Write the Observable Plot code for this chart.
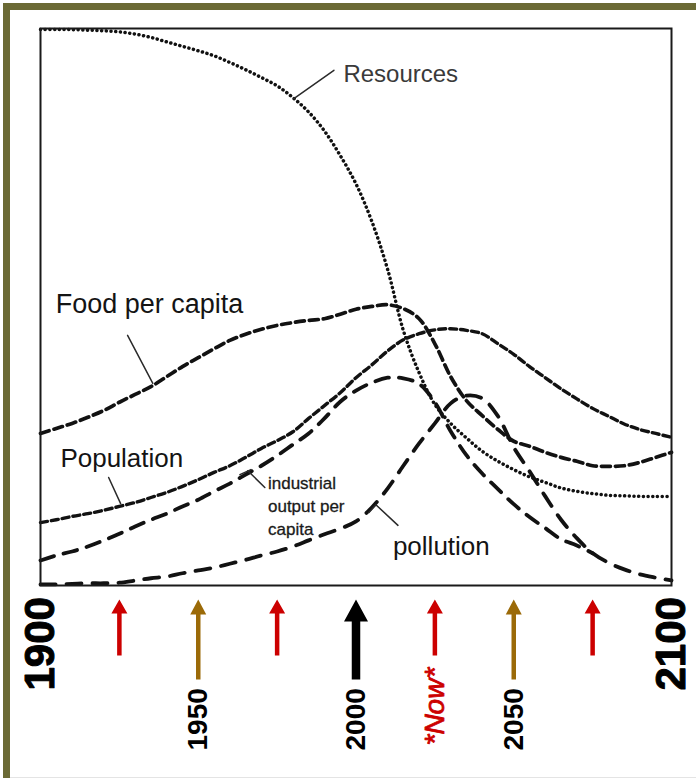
<!DOCTYPE html>
<html><head><meta charset="utf-8">
<script src="https://cdn.jsdelivr.net/npm/d3@7"></script>
<script src="https://cdn.jsdelivr.net/npm/@observablehq/plot@0.6"></script>
<style>
html,body{margin:0;padding:0;background:#fff;}
#wrap{position:relative;width:696px;height:780px;overflow:hidden;background:#fff;}
#border{position:absolute;left:3px;top:3px;width:693px;height:775px;border-top:7px solid #6b6a35;border-left:7px solid #6b6a35;box-sizing:border-box;}
#bottomline{position:absolute;left:10px;top:777px;width:686px;height:1px;background:#e4e4e4;}
#chart{position:absolute;left:0;top:0;}
</style></head><body>
<div id="wrap"><div id="border"></div><div id="bottomline"></div><div id="chart"></div></div>
<script>
// ---- data (index values, 0 = bottom of frame, 100 = top) ----
const years = [1900,1905,1910,1915,1920,1925,1930,1935,1940,1945,1950,1955,1960,1965,1970,1975,1980,1985,1990,1995,
               2000,2005,2010,2015,2020,2025,2030,2035,2040,2045,2050,2055,2060,2065,2070,2075,2080,2085,2090,2095,2100];
const resources  = [99.8,99.8,99.8,99.7,99.6,99.4,99.0,98.4,97.6,96.8,96.0,95.1,93.9,92.6,91.2,89.7,87.6,85.0,81.6,77.2,
                    72.1,65.4,56.8,45.8,38.2,32.5,29.1,26.5,24.1,22.3,20.8,19.5,18.5,17.5,16.9,16.5,16.2,16.1,16.0,16.0,16.0];
const foodPerCapita = [27.3,28.2,29.1,30.2,31.4,32.9,34.3,35.7,37.5,39.3,40.9,42.5,44.0,45.1,46.0,46.7,47.2,47.6,47.9,48.7,
                    49.6,50.1,50.4,49.7,47.9,43.4,37.5,33.2,30.5,28.0,25.9,25.0,23.9,23.0,22.3,21.5,21.4,21.5,22.1,23.0,23.9];
const population = [11.3,11.8,12.4,12.9,13.5,14.2,14.9,15.8,16.7,17.8,19.0,20.3,21.5,23.0,24.6,26.0,27.6,30.0,32.3,34.6,
                    37.3,39.6,42.1,44.1,45.2,45.9,46.1,45.8,45.2,43.4,41.5,39.3,37.3,35.3,33.5,31.8,30.4,29.0,28.0,27.3,26.6];
const industrialOutput = [4.5,5.4,6.1,7.0,8.1,9.3,10.6,11.8,12.9,14.2,15.4,16.9,18.3,19.9,21.5,23.3,25.3,27.3,30.0,33.0,
                    35.0,36.4,37.3,37.2,36.2,32.9,27.7,23.4,20.1,17.3,14.6,12.3,10.3,8.3,7.2,5.8,4.1,2.9,2.0,1.4,0.9];
const pollution  = [0.2,0.2,0.3,0.4,0.4,0.5,0.9,1.3,1.6,2.2,2.7,3.2,3.9,4.6,5.4,6.1,7.0,8.1,9.2,10.2,
                    11.5,14.0,17.4,21.5,25.5,29.1,32.7,34.1,33.6,30.4,24.8,20.5,16.0,11.8,8.5,5.8,4.1,2.9,2.0,1.4,0.9];

const tickYears  = [1900, 1950, 2000, 2025, 2050, 2100];
const tickLabels = ["1900", "1950", "2000", "*Now*", "2050", "2100"];
const arrowYears = [1925, 1950, 1975, 2000, 2025, 2050, 2075];
const arrowKinds = ["red", "brown", "red", "black", "red", "brown", "red"];

// ---- build tidy tables ----
const series = (vals) => years.map((yr, i) => ({year: yr, value: vals[i]}));

const labelRows = [
  {year: 1996.0, value: 91.7, text: "Resources", size: 24, fill: "#3a3a3a"},
  {year: 1904.8, value: 50.4, text: "Food per capita", size: 27, fill: "#141414"},
  {year: 1906.3, value: 22.7, text: "Population", size: 26, fill: "#141414"},
  {year: 2011.7, value: 6.9, text: "pollution", size: 26, fill: "#141414"}
];
const smallLabel = [{year: 1972.1, value: 14.5, text: "industrial\noutput per\ncapita"}];

const pointerRows = [
  {id: "res", pts: [[1980.3, 87.4], [1993.0, 92.5]]},
  {id: "food", pts: [[1927.6, 44.9], [1935.6, 36.3]]},
  {id: "pop", pts: [[1921.6, 19.4], [1925.4, 14.7]]},
  {id: "ind", pts: [[1963.2, 19.9], [1966.7, 20.8]]},
  {id: "ind2", pts: [[1965.7, 20.6], [1971.1, 17.6]]},
  {id: "pol", pts: [[2004.1, 13.1], [2006.3, 14.5], [2013.3, 10.8]]}
];
const pointerData = pointerRows.flatMap(p => p.pts.map(([x, y]) => ({id: p.id, year: x, value: y})));

const ticks = tickYears.map((y, i) => ({year: y, label: tickLabels[i]}));
const arrows = arrowYears.map((y, i) => ({year: y, kind: arrowKinds[i]}));

function arrowShape(shaftW, headW, headH) {
  return {
    draw(ctx, l) {
      ctx.moveTo(-shaftW / 2, 0);
      ctx.lineTo(-shaftW / 2, -(l - headH));
      ctx.lineTo(-headW / 2, -(l - headH));
      ctx.lineTo(0, -l);
      ctx.lineTo(headW / 2, -(l - headH));
      ctx.lineTo(shaftW / 2, -(l - headH));
      ctx.lineTo(shaftW / 2, 0);
      ctx.closePath();
    }
  };
}

const lineStyle = {x: "year", y: "value", curve: "catmull-rom", stroke: "#121212"};

const chart = Plot.plot({
  width: 696,
  height: 780,
  marginLeft: 40,
  marginRight: 25,
  marginTop: 28,
  marginBottom: 195,
  x: {domain: [1900, 2100], axis: null},
  y: {domain: [0, 100], axis: null},
  style: {background: "transparent", fontFamily: "'Liberation Sans', Arial, sans-serif", overflow: "visible"},
  marks: [
    Plot.line(series(resources), {...lineStyle, strokeWidth: 3.5, strokeDasharray: "0.1 4.6", strokeLinecap: "round", stroke: "#111"}),
    Plot.line(series(foodPerCapita), {...lineStyle, strokeWidth: 3.7, strokeDasharray: "9 5"}),
    Plot.line(series(population), {...lineStyle, strokeWidth: 3.4, strokeDasharray: "7 4"}),
    // after ~2075 industrial output coincides with the pollution line, which draws that shared stretch
    Plot.line(series(industrialOutput), {...lineStyle, filter: d => d.year <= 2075, strokeWidth: 3.8, strokeDasharray: "14 10"}),
    Plot.line(series(pollution), {...lineStyle, strokeWidth: 3.8, strokeDasharray: "15 11"}),
    Plot.frame({stroke: "#1a1a1a", strokeWidth: 2}),
    Plot.line(pointerData, {x: "year", y: "value", z: "id", stroke: "#2a2a2a", strokeWidth: 1.5}),
    Plot.text(labelRows, {x: "year", y: "value", text: "text", fontSize: d => d.size, fill: "fill", textAnchor: "start", lineAnchor: "middle"}),
    Plot.text(smallLabel, {x: "year", y: "value", text: "text", fontSize: 17, lineHeight: 1.36, fill: "#1a1a1a", stroke: "#1a1a1a", strokeWidth: 0.3, textAnchor: "start", lineAnchor: "middle"}),
    // rotated year labels below the frame
    Plot.text(ticks.filter(d => d.year === 1900 || d.year === 2100), {x: "year", text: "label", frameAnchor: "bottom", dy: 105, rotate: -90, textAnchor: "start", lineAnchor: "middle", fontSize: 42, fontWeight: "bold", letterSpacing: "-2px", fill: "#000", stroke: "#000", strokeWidth: 1}),
    Plot.text(ticks.filter(d => d.year > 1900 && d.year < 2100 && d.label !== "*Now*"), {x: "year", text: "label", frameAnchor: "bottom", dy: 165, rotate: -90, textAnchor: "start", lineAnchor: "middle", fontSize: 28, fontWeight: "bold", fill: "#000"}),
    Plot.text(ticks.filter(d => d.label === "*Now*"), {x: "year", text: "label", frameAnchor: "bottom", dy: 160, rotate: -90, textAnchor: "start", lineAnchor: "middle", fontSize: 28, fontStyle: "italic", fill: "#cc0000", stroke: "#cc0000", strokeWidth: 0.8}),
    // arrows
    Plot.vector(arrows.filter(d => d.kind === "red"), {x: "year", frameAnchor: "bottom", dy: 70, length: 56, anchor: "start", shape: arrowShape(4.5, 16, 14), fill: "#cc0000", stroke: "none"}),
    Plot.vector(arrows.filter(d => d.kind === "brown"), {x: "year", frameAnchor: "bottom", dy: 94, length: 80, anchor: "start", shape: arrowShape(4.5, 16, 15), fill: "#9b6a08", stroke: "none"}),
    Plot.vector(arrows.filter(d => d.kind === "black"), {x: "year", frameAnchor: "bottom", dy: 94, length: 80, anchor: "start", shape: arrowShape(8.5, 24, 22), fill: "#000", stroke: "none"})
  ]
});
document.getElementById("chart").appendChild(chart);
</script>
</body></html>
